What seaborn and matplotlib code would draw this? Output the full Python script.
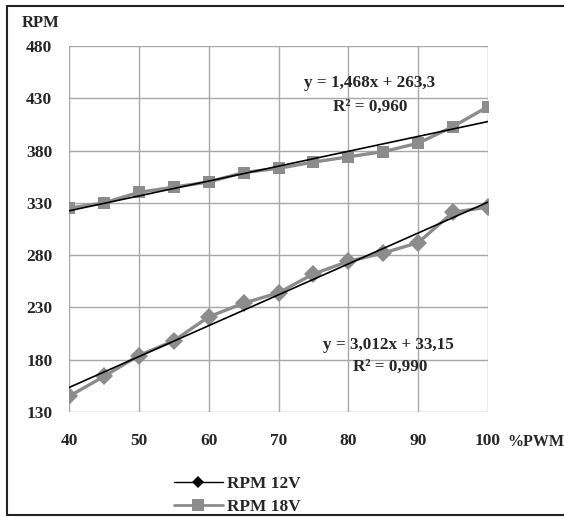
import numpy as np
import pandas as pd
import matplotlib
matplotlib.use("Agg")
import matplotlib.pyplot as plt
from matplotlib.lines import Line2D
import seaborn as sns

# values
pwm = [40, 45, 50, 55, 60, 65, 70, 75, 80, 85, 90, 95, 100]
rpm_12v = [145, 164, 184, 198, 221, 234, 244, 262, 274, 282, 292, 321, 326]
rpm_18v = [325, 330, 340, 345, 350, 359, 363, 369, 374, 379, 387, 403, 422]
series_names = ["RPM 12V", "RPM 18V"]
y_ticks = [130, 180, 230, 280, 330, 380, 430, 480]
x_ticks = [40, 50, 60, 70, 80, 90, 100]
eq_12v = ["y = 3,012x + 33,15", "R² = 0,990"]
eq_18v = ["y = 1,468x + 263,3", "R² = 0,960"]

df = pd.DataFrame({
    "pwm": pwm * 2,
    "rpm": rpm_12v + rpm_18v,
    "series": [series_names[0]] * len(pwm) + [series_names[1]] * len(pwm),
})

sns.set_style("white")
plt.rcParams["font.family"] = ["Liberation Serif", "DejaVu Serif"]
plt.rcParams["font.weight"] = "bold"

fig = plt.figure(figsize=(5.64, 5.17), dpi=100)
ax = fig.add_axes([69 / 564, 1 - 412 / 517, (488 - 69) / 564, (412 - 46) / 517])

grey = "#8c8c8c"
sns.lineplot(data=df, x="pwm", y="rpm", hue="series", style="series",
             markers={"RPM 12V": "D", "RPM 18V": "s"}, dashes=False,
             palette={"RPM 12V": grey, "RPM 18V": grey},
             markersize=9, markeredgewidth=0, linewidth=2.4, legend=False, ax=ax)
# linear trend lines
for s in series_names:
    sns.regplot(data=df[df["series"] == s], x="pwm", y="rpm", ci=None, scatter=False,
                line_kws={"color": "black", "lw": 1.2}, ax=ax)

ax.set_xlim(40, 100)
ax.set_ylim(130, 480)
ax.set_xticks(x_ticks)
ax.set_yticks(y_ticks)
ax.grid(True, color="#a8a8a8", lw=1)
for sp in ax.spines.values():
    sp.set_visible(False)
ax.set_xlabel("")
ax.set_ylabel("")
ax.tick_params(length=0, labelsize=12.5)
ax.tick_params(axis="x", pad=15)
ax.tick_params(axis="y", pad=12)
for lab in ax.get_xticklabels() + ax.get_yticklabels():
    lab.set_fontweight("bold")

fig.text(22 / 564, 1 - 23 / 517, "RPM", fontsize=12, weight="bold", va="center")
fig.text(507 / 564, 1 - 442 / 517, "%PWM", fontsize=11.5, weight="bold", va="center")

ax.text(83.1, 444.5, eq_18v[0], fontsize=12.3, weight="bold", ha="center", va="center")
ax.text(83.1, 421.5, eq_18v[1], fontsize=12.3, weight="bold", ha="center", va="center")
ax.text(85.7, 194, eq_12v[0], fontsize=12.3, weight="bold", ha="center", va="center")
ax.text(86.0, 173, eq_12v[1], fontsize=12.3, weight="bold", ha="center", va="center")

handles = [
    Line2D([], [], color="black", lw=1, marker="D", markersize=6, markeredgewidth=0),
    Line2D([], [], color=grey, lw=2, marker="s", markersize=8, markeredgewidth=0),
]
fig.legend(handles, series_names, loc="upper left",
           bbox_to_anchor=(158 / 564, 1 - 460 / 517), frameon=False,
           handlelength=2.9, labelspacing=0.45, handletextpad=0.2,
           prop={"family": "Liberation Serif", "weight": "bold", "size": 12.4})

# scanned page frame
fig.add_artist(Line2D([7 / 564, 7 / 564], [1 - 515 / 517, 1 - 6 / 517], color="#222222", lw=1.5))
fig.add_artist(Line2D([7 / 564, 1], [1 - 6 / 517, 1 - 6 / 517], color="#222222", lw=1.5))
fig.add_artist(Line2D([7 / 564, 1], [1 - 515 / 517, 1 - 515 / 517], color="#222222", lw=1.5))

fig.savefig("out.png", dpi=100)
